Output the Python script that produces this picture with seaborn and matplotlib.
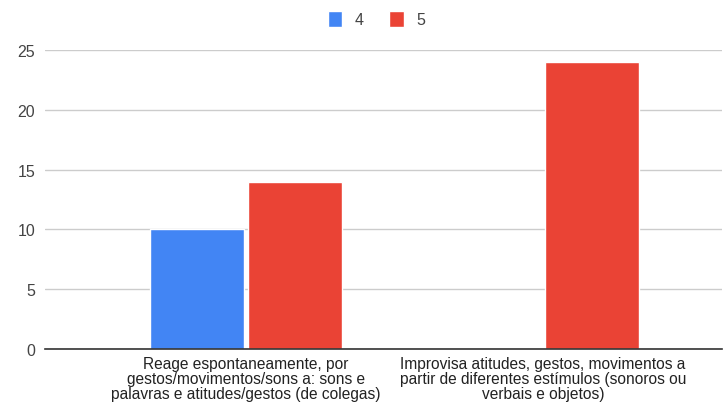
import pandas as pd
import seaborn as sns
import matplotlib.pyplot as plt

# Daten
categorias = [
    "Reage espontaneamente, por\ngestos/movimentos/sons a: sons e\npalavras e atitudes/gestos (de colegas)",
    "Improvisa atitudes, gestos, movimentos a\npartir de diferentes estímulos (sonoros ou\nverbais e objetos)",
]
serie_4 = [10, 0]
serie_5 = [14, 24]
niveis = ["4", "5"]
cores = ["#4285F4", "#EA4335"]

df = pd.DataFrame({
    "categoria": categorias * 2,
    "nivel": [niveis[0]] * 2 + [niveis[1]] * 2,
    "valor": serie_4 + serie_5,
})

sns.set_theme(style="white")
plt.rcParams["font.family"] = ["Liberation Sans", "DejaVu Sans"]

fig = plt.figure(figsize=(7.24, 4.06), dpi=100)
ax = fig.add_axes([0.062, 0.138, 0.935, 0.736])

sns.barplot(data=df, x="categoria", y="valor", hue="nivel", palette=cores,
            width=0.66, gap=0.04, ax=ax, saturation=1, legend=True)

ax.set_xlim(-0.677, 1.603)
ax.set_ylim(0, 25)
ax.set_yticks([0, 5, 10, 15, 20, 25])
ax.yaxis.grid(True, color="#cccccc", linewidth=1)
ax.set_axisbelow(True)
for s in ["top", "right", "left"]:
    ax.spines[s].set_visible(False)
ax.spines["bottom"].set_color("#333333")
ax.spines["bottom"].set_linewidth(1.2)
ax.tick_params(axis="y", length=0, labelsize=11.5, colors="#444444", pad=7)
ax.tick_params(axis="x", length=0, labelsize=11.2, colors="#222222", pad=5)
for t in ax.get_xticklabels():
    t.set_linespacing(1.0)
ax.set_xlabel("")
ax.set_ylabel("")

handles, labels = ax.get_legend_handles_labels()
ax.get_legend().remove()
fig.legend(handles, labels, loc="upper center", bbox_to_anchor=(0.52, 1.005),
           ncol=2, frameon=False, fontsize=11.5, handlelength=0.9, handleheight=1.1,
           columnspacing=1.6, handletextpad=0.8, labelcolor="#444444")

plt.savefig("out.png", dpi=100)
